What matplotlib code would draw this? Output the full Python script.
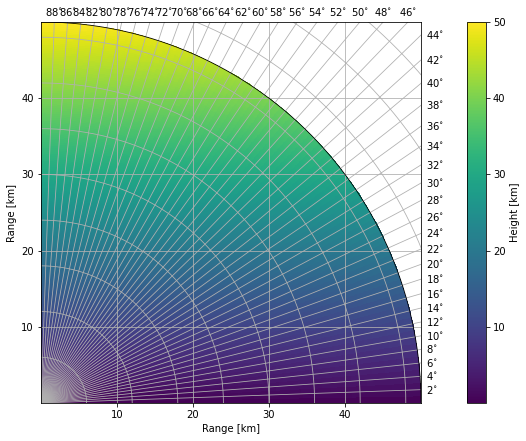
import numpy as np
import matplotlib
matplotlib.use("Agg")
import matplotlib.pyplot as plt

# -------------------------------------------------------
# DATA
# -------------------------------------------------------
elevations = np.arange(0, 91, 1.0)          # deg, cell edges
ranges_km = np.arange(0, 50.25, 0.25)       # km, cell edges
ray_angles = np.arange(2, 90, 2)            # elevation grid lines / labels
circle_radii = np.arange(6, 72, 6)          # range rings, km
xy_ticks = [10, 20, 30, 40]
cbar_ticks = [10, 20, 30, 40, 50]
max_range = 50.0

# beam height, 4/3 effective earth radius model
re = 6371.0 * 4.0 / 3.0
r, el = np.meshgrid(ranges_km, np.deg2rad(elevations))
height = np.sqrt(r ** 2 + re ** 2 + 2 * r * re * np.sin(el)) - re
x = r * np.cos(el)
y = r * np.sin(el)

# -------------------------------------------------------
# PLOT
# -------------------------------------------------------
W, H = 526, 441
fig = plt.figure(figsize=(W / 72, H / 72), dpi=72)
ax = fig.add_axes([41 / W, (H - 403) / H, 380 / W, 381 / H])
cax = fig.add_axes([467 / W, (H - 403) / H, 19 / W, 381 / H])

# cell centres for colour
hc = 0.25 * (height[:-1, :-1] + height[1:, :-1] + height[:-1, 1:] + height[1:, 1:])
pm = ax.pcolormesh(x, y, hc, cmap="viridis", vmin=0, vmax=50,
                   shading="flat", rasterized=True)

gcol = "#b0b0b0"
# cartesian grid
for t in xy_ticks:
    ax.axvline(t, color=gcol, lw=0.8, zorder=2)
    ax.axhline(t, color=gcol, lw=0.8, zorder=2)

# polar grid
far = 100.0
for a in ray_angles:
    ar = np.deg2rad(a)
    ax.plot([0, far * np.cos(ar)], [0, far * np.sin(ar)],
            color=gcol, lw=0.8, zorder=2)
th = np.linspace(0, np.pi / 2, 400)
for rr in circle_radii:
    ax.plot(rr * np.cos(th), rr * np.sin(th), color=gcol, lw=0.8, zorder=2)

# outline of data
ax.plot(max_range * np.cos(th), max_range * np.sin(th), color="black", lw=0.8, zorder=3)

ax.set_xlim(0, max_range)
ax.set_ylim(0, max_range)
ax.set_xticks(xy_ticks)
ax.set_yticks(xy_ticks)
ax.set_xlabel("Range [km]", fontsize=10)
ax.set_ylabel("Range [km]", fontsize=10)
ax.tick_params(labelsize=10)

# elevation labels along right and top edges
for a in ray_angles:
    ar = np.deg2rad(a)
    if a < 45:
        ax.text(max_range + 0.6, max_range * np.tan(ar), rf"${a}^{{\circ}}$",
                ha="left", va="center", fontsize=10, clip_on=False)
    else:
        ax.text(max_range / np.tan(ar), max_range + 0.5, rf"${a}^{{\circ}}$",
                ha="center", va="bottom", fontsize=10, clip_on=False)

cb = fig.colorbar(pm, cax=cax, ticks=cbar_ticks)
cb.set_label("Height [km]", fontsize=10)
cb.ax.tick_params(labelsize=10)

fig.savefig("out.png", dpi=72)
